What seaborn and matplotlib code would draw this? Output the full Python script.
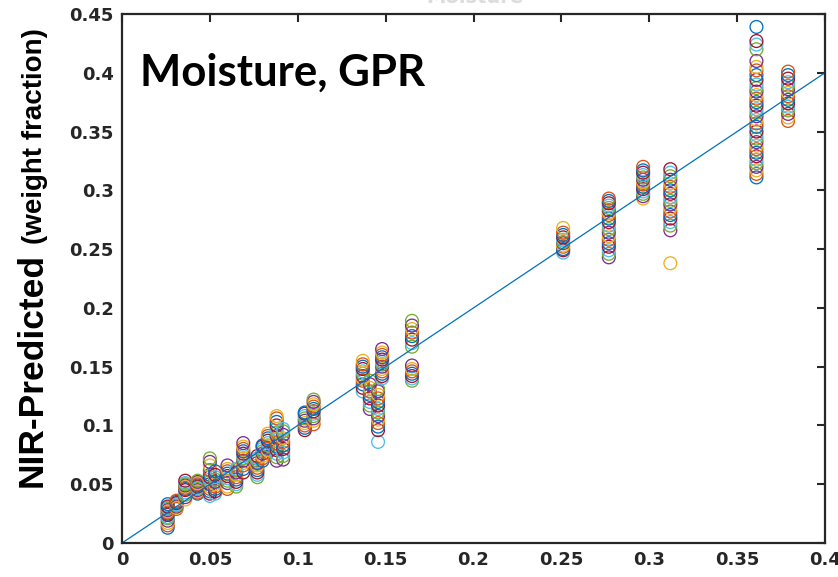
import numpy as np
import pandas as pd
import seaborn as sns
import matplotlib
matplotlib.use("Agg")
import matplotlib.pyplot as plt

# ---- data (reference value -> predicted values) ----
reference = [0.026, 0.031, 0.036, 0.043, 0.050, 0.053, 0.060, 0.065, 0.069,
             0.077, 0.080, 0.083, 0.088, 0.0917, 0.104, 0.109, 0.137, 0.141,
             0.1457, 0.148, 0.165, 0.251, 0.277, 0.2965, 0.312, 0.361, 0.379]

predicted = [
    [0.013, 0.015, 0.017, 0.019, 0.021, 0.022, 0.024, 0.025, 0.026, 0.027, 0.028, 0.029, 0.030, 0.031, 0.033],
    [0.029, 0.030, 0.031, 0.032, 0.033, 0.034, 0.035, 0.036],
    [0.037, 0.039, 0.041, 0.043, 0.045, 0.046, 0.047, 0.048, 0.049, 0.050, 0.051, 0.053],
    [0.042, 0.043, 0.044, 0.045, 0.046, 0.047, 0.048, 0.049, 0.050, 0.051, 0.052, 0.053],
    [0.040, 0.042, 0.044, 0.046, 0.048, 0.050, 0.052, 0.054, 0.056, 0.058, 0.062, 0.066, 0.069, 0.072],
    [0.042, 0.044, 0.046, 0.048, 0.050, 0.052, 0.054, 0.056, 0.058, 0.061],
    [0.046, 0.048, 0.051, 0.053, 0.055, 0.057, 0.059, 0.061, 0.063, 0.066],
    [0.048, 0.050, 0.052, 0.054, 0.056, 0.058, 0.060, 0.062, 0.063],
    [0.060, 0.063, 0.066, 0.068, 0.070, 0.072, 0.074, 0.076, 0.078, 0.080, 0.082, 0.085],
    [0.056, 0.058, 0.060, 0.062, 0.064, 0.066, 0.068, 0.070, 0.072, 0.074],
    [0.070, 0.072, 0.074, 0.076, 0.078, 0.080, 0.082, 0.083],
    [0.077, 0.079, 0.081, 0.083, 0.085, 0.087, 0.089, 0.091, 0.093],
    [0.070, 0.073, 0.076, 0.079, 0.082, 0.085, 0.088, 0.091, 0.094, 0.097, 0.100, 0.103, 0.106, 0.108],
    [0.071, 0.074, 0.077, 0.080, 0.083, 0.086, 0.089, 0.092, 0.095, 0.097],
    [0.096, 0.098, 0.100, 0.102, 0.104, 0.106, 0.108, 0.110, 0.111],
    [0.101, 0.104, 0.106, 0.108, 0.110, 0.112, 0.114, 0.116, 0.118, 0.120, 0.122],
    [0.129, 0.132, 0.135, 0.138, 0.140, 0.142, 0.144, 0.146, 0.148, 0.150, 0.152, 0.155],
    [0.114, 0.117, 0.120, 0.123, 0.126, 0.129, 0.132, 0.135, 0.138],
    [0.086, 0.096, 0.099, 0.102, 0.105, 0.108, 0.111, 0.114, 0.117, 0.120, 0.123, 0.126, 0.129, 0.131],
    [0.140, 0.142, 0.144, 0.146, 0.148, 0.150, 0.152, 0.154, 0.156, 0.158, 0.160, 0.162, 0.165],
    [0.138, 0.140, 0.142, 0.144, 0.146, 0.148, 0.151, 0.167, 0.170, 0.173, 0.176, 0.179, 0.182, 0.185, 0.189],
    [0.247, 0.249, 0.250, 0.252, 0.253, 0.255, 0.256, 0.258, 0.260, 0.262, 0.264, 0.268],
    [0.243, 0.246, 0.249, 0.252, 0.255, 0.258, 0.261, 0.264, 0.267, 0.270, 0.273, 0.276, 0.279,
     0.281, 0.283, 0.285, 0.287, 0.289, 0.291, 0.293],
    [0.293, 0.295, 0.297, 0.299, 0.301, 0.303, 0.305, 0.307, 0.309, 0.311, 0.313, 0.315, 0.317, 0.320],
    [0.238, 0.266, 0.270, 0.273, 0.276, 0.279, 0.282, 0.285, 0.288, 0.291, 0.294, 0.297, 0.300,
     0.303, 0.306, 0.309, 0.312, 0.315, 0.318],
    [0.311, 0.314, 0.317, 0.320, 0.323, 0.326, 0.329, 0.332, 0.335, 0.338, 0.341, 0.344, 0.347,
     0.350, 0.354, 0.357, 0.360, 0.363, 0.366, 0.369, 0.372, 0.375, 0.378, 0.381, 0.384, 0.387,
     0.390, 0.394, 0.398, 0.402, 0.405, 0.410, 0.420, 0.424, 0.427, 0.439],
    [0.359, 0.362, 0.365, 0.368, 0.371, 0.374, 0.377, 0.380, 0.383, 0.386, 0.389, 0.392, 0.395,
     0.398, 0.401],
]

identity_x = [0.0, 0.4]
identity_y = [0.0, 0.4]

x_ticks = [0, 0.05, 0.1, 0.15, 0.2, 0.25, 0.3, 0.35, 0.4]
x_tick_labels = ["0", "0.05", "0.1", "0.15", "0.2", "0.25", "0.3", "0.35", "0.4"]
y_ticks = [0, 0.05, 0.1, 0.15, 0.2, 0.25, 0.3, 0.35, 0.4, 0.45]
y_tick_labels = ["0", "0.05", "0.1", "0.15", "0.2", "0.25", "0.3", "0.35", "0.4", "0.45"]

# MATLAB default color order
MATLAB_COLORS = ["#0072BD", "#D95319", "#EDB120", "#7E2F8E", "#77AC30", "#4DBEEE", "#A2142F"]

# ---- build long table ----
rows = []
for ref, preds in zip(reference, predicted):
    for p in preds:
        rows.append((ref, p))
df = pd.DataFrame(rows, columns=["reference", "predicted"])
df["run"] = np.arange(len(df)) % len(MATLAB_COLORS)

sns.set_theme(style="white")
plt.rcParams["font.family"] = ["DejaVu Sans"]

fig = plt.figure(figsize=(8.38, 5.77), dpi=100)
ax = fig.add_axes([122 / 838, 34 / 577, 703 / 838, 529 / 577])

sns.scatterplot(data=df, x="reference", y="predicted", hue="run",
                palette=MATLAB_COLORS, s=85, linewidth=0.95, legend=False, ax=ax)
pts = ax.collections[0]
fc = pts.get_facecolors()
pts.set_edgecolors(fc)
pts.set_facecolors("none")

sns.lineplot(x=identity_x, y=identity_y, color="#0072BD", linewidth=0.9, ax=ax)

ax.set_xlim(0, 0.4)
ax.set_ylim(0, 0.45)
ax.set_xticks(x_ticks)
ax.set_xticklabels(x_tick_labels)
ax.set_yticks(y_ticks)
ax.set_yticklabels(y_tick_labels)
ax.set_xlabel("")
ax.set_ylabel("")
ax.tick_params(direction="in", length=6, width=1.5, colors="#262626",
               top=True, right=True, labelsize=13, pad=6)
for lbl in ax.get_xticklabels() + ax.get_yticklabels():
    lbl.set_fontweight("bold")
for sp in ax.spines.values():
    sp.set_color("#262626")
    sp.set_linewidth(1.6)
    sp.set_visible(True)

# annotation inside the plot
ax.text(0.026, (543 - 86) / 529, "Moisture, GPR", transform=ax.transAxes, fontsize=31.5,
        fontweight="bold", family=["Lato", "DejaVu Sans"], color="black",
        ha="left", va="baseline")

# faint, mostly cropped title
fig.text(475 / 838, 1 - 3 / 577, "Moisture", fontsize=14, color="#dcdcdc",
         ha="center", va="baseline", fontweight="bold")

# y label in two sizes
t1 = fig.text(42 / 838, 90 / 577, "NIR-Predicted", rotation=90, rotation_mode="anchor",
              ha="left", va="baseline", fontsize=25.5, fontweight="bold",
              family=["Liberation Sans", "DejaVu Sans"], color="black")
fig.canvas.draw()
bb = t1.get_window_extent(fig.canvas.get_renderer())
fig.text(42 / 838, (bb.y1 + 9) / 577, "(weight fraction)", rotation=90, rotation_mode="anchor",
         ha="left", va="baseline", fontsize=20, fontweight="bold",
         family=["Liberation Sans", "DejaVu Sans"], color="black")

fig.savefig("out.png", dpi=100)
